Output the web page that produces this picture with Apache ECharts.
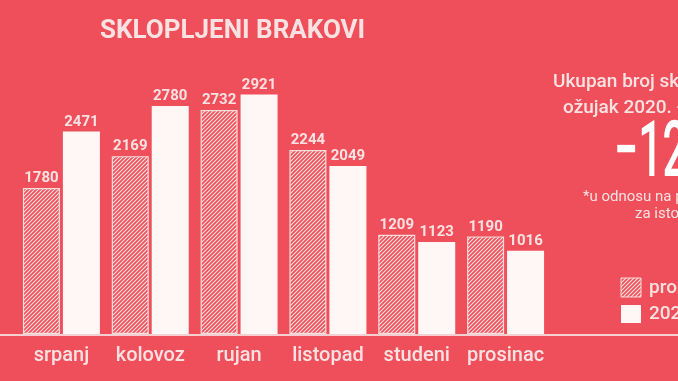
<!DOCTYPE html>
<html><head><meta charset="utf-8">
<script src="https://cdn.jsdelivr.net/npm/echarts@6/dist/echarts.min.js"></script>
<style>html,body{margin:0;padding:0;background:#ee4f5a;}#c{width:678px;height:381px;}</style>
</head><body><div id="c"></div>
<script>
var categories = ['srpanj','kolovoz','rujan','listopad','studeni','prosinac'];
var prosjek = [1780, 2169, 2732, 2244, 1209, 1190];
var god2020 = [2471, 2780, 2921, 2049, 1123, 1016];
var legendNames = ['prosjek', '2020.'];

var bg = '#ee4f5a';
var light = '#fbe2e2';

function hatch() {
  var c = document.createElement('canvas');
  c.width = 4; c.height = 4;
  var g = c.getContext('2d');
  g.fillStyle = bg; g.fillRect(0,0,4,4);
  g.strokeStyle = 'rgba(255,236,236,0.95)';
  g.lineWidth = 1.1;
  g.beginPath();
  g.moveTo(-1,5); g.lineTo(5,-1);
  g.moveTo(-1,1); g.lineTo(1,-1);
  g.moveTo(3,5); g.lineTo(5,3);
  g.stroke();
  return c;
}
var pat = {image: hatch(), repeat: 'repeat'};

var chart = echarts.init(document.getElementById('c'), null, {renderer:'canvas'});
var labelStyle = {show:true, position:'top', distance:2, color:light, fontFamily:'Roboto', fontWeight:'bold', fontSize:15};
chart.setOption({
  backgroundColor: bg,
  animation: false,
  grid: {left:17, width:533, top:88, bottom:47},
  xAxis: {type:'category', data:categories, axisLine:{show:false}, axisTick:{show:false},
    axisLabel:{interval:0, color:light, fontFamily:'Roboto', fontWeight:500, fontSize:20, margin:12}},
  yAxis: {type:'value', min:0, max:3000, show:false, splitLine:{show:false}},
  series: [
    {name:legendNames[0], type:'bar', data:prosjek, barWidth:37, barGap:'8%',
      itemStyle:{color:pat, borderColor:'#f9dcdc', borderWidth:1.2}, label:labelStyle},
    {name:legendNames[1], type:'bar', data:god2020, barWidth:37,
      itemStyle:{color:'#fff6f6'}, label:labelStyle}
  ],
  graphic: [
    {type:'line', shape:{x1:0,y1:335,x2:678,y2:335}, style:{stroke:'#f8cfd1', lineWidth:2}, z:10},
    {type:'text', left:100, top:18, style:{text:'SKLOPLJENI BRAKOVI', fill:light, font:'bold 26px Roboto'}},
    {type:'text', x:553, y:82, style:{text:'Ukupan broj sklopljenih brakova', fill:light, font:'500 19px Roboto', textVerticalAlign:'middle'}},
    {type:'text', x:563, y:108, style:{text:'ožujak 2020. - prosinac 2020.', fill:light, font:'500 19px Roboto', textVerticalAlign:'middle'}},
    {type:'text', x:614, y:156, scaleX:0.55, style:{text:'−12%', fill:'#ffffff', font:'500 78px Roboto', textVerticalAlign:'middle'}},
    {type:'text', x:583, y:197, style:{text:'*u odnosu na prosjek', fill:light, font:'15px Roboto', textVerticalAlign:'middle'}},
    {type:'text', x:635, y:214, style:{text:'za isto razdoblje', fill:light, font:'15px Roboto', textVerticalAlign:'middle'}},
    {type:'rect', shape:{x:621,y:278,width:20,height:19}, style:{fill:pat, stroke:'#f9dcdc', lineWidth:1}},
    {type:'rect', shape:{x:621,y:305,width:20,height:18}, style:{fill:'#fff6f6'}},
    {type:'text', x:649, y:288, style:{text:legendNames[0], fill:light, font:'500 19px Roboto', textVerticalAlign:'middle'}},
    {type:'text', x:649, y:314, style:{text:legendNames[1], fill:light, font:'500 19px Roboto', textVerticalAlign:'middle'}}
  ]
});
</script></body></html>
